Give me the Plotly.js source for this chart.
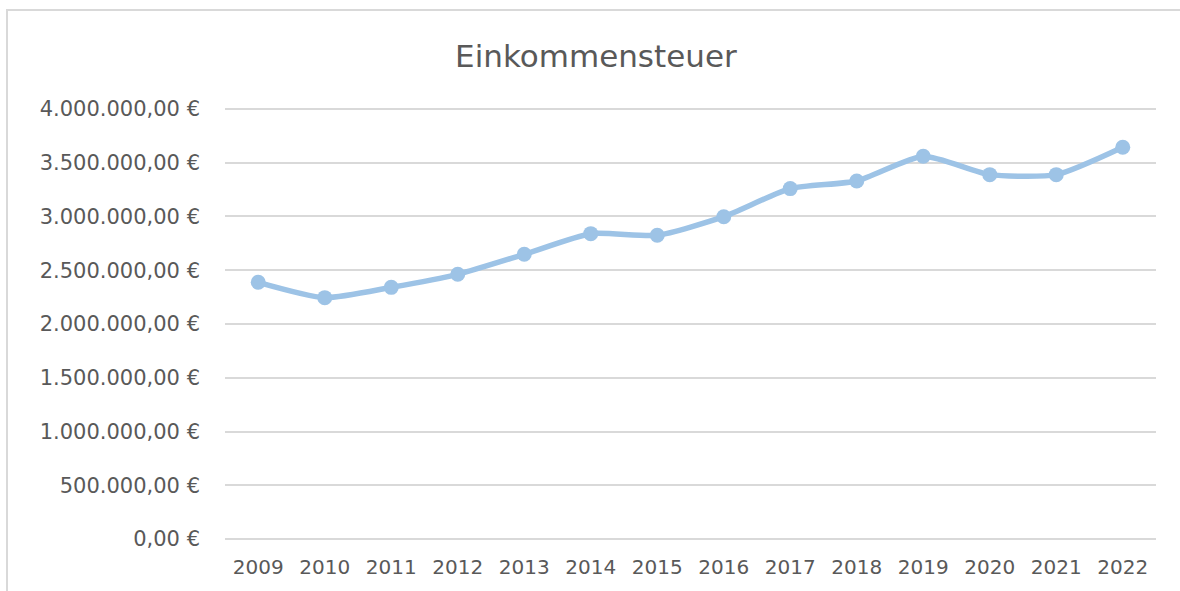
<!DOCTYPE html>
<html>
<head>
<meta charset="utf-8">
<script src="https://cdn.plot.ly/plotly-3.0.1.min.js"></script>
<style>
  html, body { margin: 0; padding: 0; background: #ffffff; }
  #wrap { position: relative; width: 1180px; height: 591px; overflow: hidden; }
  #frame { position: absolute; left: 6px; top: 9px; width: 1200px; height: 600px;
           border-left: 2px solid #d9d9d9; border-top: 2px solid #d9d9d9; pointer-events: none; }
  #chart { position: absolute; left: 0; top: 0; width: 1180px; height: 591px; }
</style>
</head>
<body>
<div id="wrap">
  <div id="chart"></div>
  <div id="frame"></div>
</div>
<script>
const years = ["2009","2010","2011","2012","2013","2014","2015","2016","2017","2018","2019","2020","2021","2022"];
const einkommensteuer = [2388000, 2245000, 2341000, 2462000, 2648000, 2840000, 2825000, 2998000, 3259000, 3330000, 3560000, 3389000, 3389000, 3644000];
const tickValues = [0, 500000, 1000000, 1500000, 2000000, 2500000, 3000000, 3500000, 4000000];
const tickLabels = ["0,00 €", "500.000,00 €", "1.000.000,00 €", "1.500.000,00 €", "2.000.000,00 €", "2.500.000,00 €", "3.000.000,00 €", "3.500.000,00 €", "4.000.000,00 €"];
const chartTitle = "Einkommensteuer";

const trace = {
  type: "scatter",
  mode: "lines+markers",
  x: years,
  y: einkommensteuer,
  line: { color: "#9dc3e6", width: 5.5, shape: "spline", smoothing: 0.6 },
  marker: { color: "#9dc3e6", size: 15 },
  hoverinfo: "x+y"
};

const layout = {
  width: 1180,
  height: 591,
  paper_bgcolor: "rgba(0,0,0,0)",
  plot_bgcolor: "rgba(0,0,0,0)",
  margin: { l: 225, r: 24, t: 107, b: 50 },
  showlegend: false,
  font: { family: "DejaVu Sans, sans-serif", color: "#595959" },
  title: {
    text: chartTitle,
    font: { family: "DejaVu Sans, sans-serif", size: 31, color: "#595959" },
    x: 0.505, xanchor: "center",
    y: 0.905, yanchor: "middle"
  },
  xaxis: {
    type: "category",
    range: [-0.5, 13.5],
    showgrid: false,
    zeroline: false,
    showline: false,
    ticks: "",
    ticklabelstandoff: 12,
    tickfont: { family: "DejaVu Sans, sans-serif", size: 20, color: "#595959" },
    fixedrange: true
  },
  yaxis: {
    range: [-18000, 4018000],
    tickvals: tickValues,
    ticktext: tickLabels,
    showgrid: true,
    gridcolor: "#d9d9d9",
    gridwidth: 1.5,
    zeroline: false,
    showline: false,
    ticks: "",
    ticklabelstandoff: 24,
    tickfont: { family: "DejaVu Sans, sans-serif", size: 21, color: "#595959" },
    fixedrange: true
  }
};

Plotly.newPlot("chart", [trace], layout, { displayModeBar: false });
</script>
</body>
</html>
